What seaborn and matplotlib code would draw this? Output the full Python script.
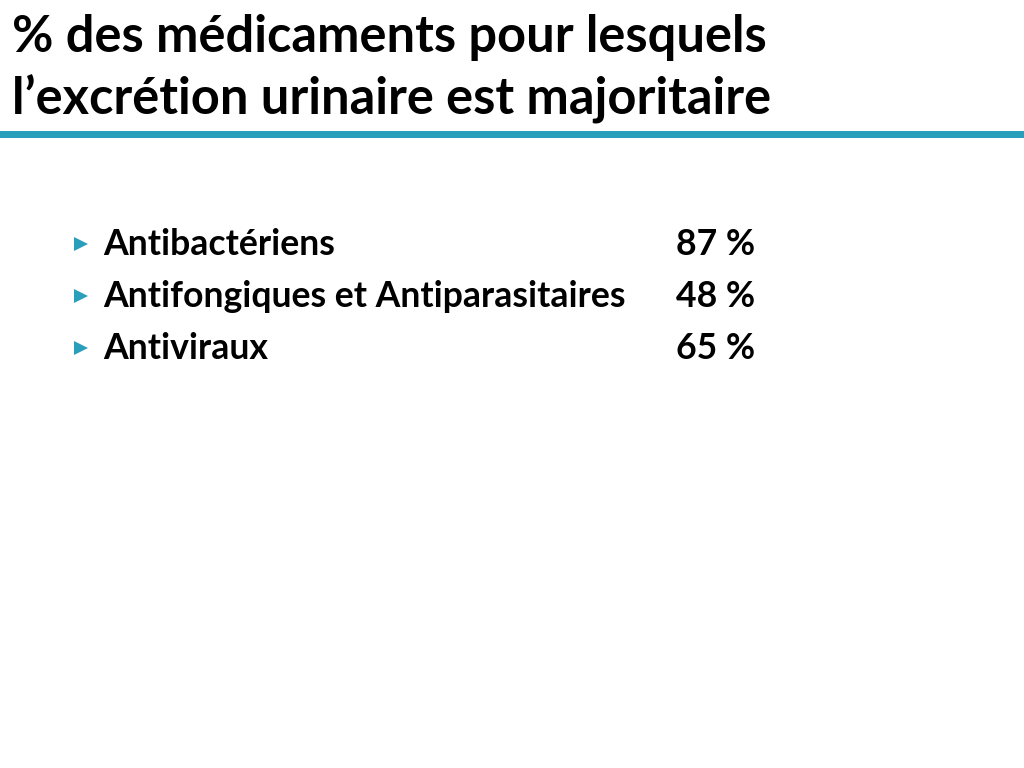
import matplotlib
matplotlib.use("Agg")
import matplotlib.pyplot as plt
import seaborn as sns
import pandas as pd

title_lines = ["% des médicaments pour lesquels", "l\u2019excrétion urinaire est majoritaire"]
categories = ["Antibactériens", "Antifongiques et Antiparasitaires", "Antiviraux"]
values = [87, 48, 65]

sns.set_theme(style="white")
plt.rcParams['font.family'] = ['Lato', 'DejaVu Sans']

fig = plt.figure(figsize=(10.24, 7.68), dpi=100)
ax = fig.add_axes([0, 0, 1, 1])

teal = "#2A9FBC"
PX = 0.72  # points per pixel

rows = [244, 296, 348]
df = pd.DataFrame({"cat": categories, "val": values, "y": rows, "x": [81] * 3})
sns.scatterplot(data=df, x="x", y="y", marker=">", s=(14 * PX) ** 2, color=teal,
                edgecolor="none", ax=ax, legend=False)

# title
ax.text(12, 52, title_lines[0], fontsize=50.5 * PX, fontweight="bold", color="black",
        ha="left", va="baseline")
ax.text(12, 115, title_lines[1], fontsize=50.5 * PX, fontweight="bold", color="black",
        ha="left", va="baseline")
ax.axhline(134, color=teal, lw=7 * PX)

for _, r in df.iterrows():
    ax.text(103, r["y"] + 11, r["cat"], fontsize=35.6 * PX, fontweight="bold",
            ha="left", va="baseline", color="black")
    ax.text(676, r["y"] + 11, f"{r['val']} %", fontsize=35.6 * PX, fontweight="bold",
            ha="left", va="baseline", color="black")

ax.set_xlim(0, 1024)
ax.set_ylim(768, 0)
ax.axis("off")

fig.savefig("out.png", dpi=100)
